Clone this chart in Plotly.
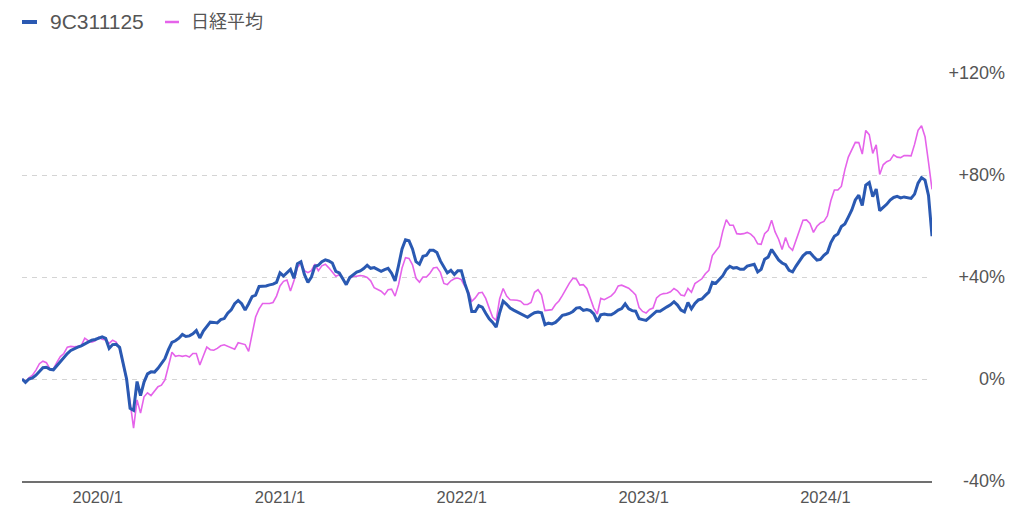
import pandas as pd
import plotly.graph_objects as go

# ---------------- data ----------------
start_date = "2019-08-02"          # first weekly observation
fund_name = "9C311125"
index_name = "日経平均"

fund_pct = [
    0, -1.3, 0, 0.4, 1.5, 3.0, 4.4, 4.6, 3.8, 3.6,
    5.3, 7.0, 8.4, 10.0, 11.2, 12.0, 12.5, 13.0, 13.8, 14.4,
    15.2, 15.5, 16.1, 16.5, 15.9, 12.0, 13.5, 13.6, 12.4, 6.0,
    0.0, -11.5, -12.3, -1.0, -6.5, -1.2, 2.0, 2.8, 2.7, 4.2,
    6.0, 8.0, 11.5, 14.4, 15.0, 16.0, 17.5, 16.7, 16.9, 17.7,
    19.0, 16.1, 18.8, 20.8, 22.3, 22.2, 22.0, 23.3, 23.7, 25.8,
    27.1, 29.5, 30.8, 29.5, 27.0, 29.5, 32.3, 32.9, 36.3, 36.4,
    36.5, 36.9, 37.2, 37.9, 41.6, 40.4, 41.8, 43.0, 39.5, 45.2,
    46.0, 41.0, 37.9, 40.0, 44.2, 44.6, 46.0, 46.7, 46.3,
    45.5, 42.2, 41.6, 39.3, 37.0, 39.8, 40.9, 41.9, 42.4, 43.3, 44.6,
    43.4, 43.7, 42.9, 42.2, 42.9, 43.4, 41.5, 38.5, 44.5, 51.0,
    54.6, 54.2, 51.0, 46.0, 45.0, 48.1, 48.5, 50.5, 50.5, 49.6,
    46.3, 43.8, 41.6, 42.6, 41.0, 42.5, 42.5, 37.5, 33.5, 26.5,
    26.5, 28.8, 28.2, 25.8, 23.6, 22.2, 20.3, 26.0, 30.5, 29.3,
    27.8, 27.0, 26.3, 25.7, 24.7, 24.2, 25.2, 26.0, 26.3, 26.0,
    21.3, 21.9, 21.6, 22.2, 23.5, 25.0, 25.3, 25.7, 26.5, 27.8,
    28.0, 26.9, 27.2, 26.8, 25.5, 22.5, 25.2, 25.5, 25.2, 25.2,
    26.0, 27.0, 27.6, 29.5, 27.5, 26.8, 26.6, 23.6, 23.3,
    23.0, 24.2, 25.5, 26.6, 26.6, 27.6, 28.3, 29.1, 30.3, 29.0,
    27.0, 26.3, 30.0, 27.5, 29.6, 31.0, 31.4, 32.8, 34.1, 37.9,
    37.5, 39.0, 40.5, 42.9, 44.2, 43.5, 43.7, 43.0, 43.0, 44.3,
    44.8, 45.0, 42.0, 43.0, 47.0, 47.8, 50.8, 48.5, 46.7, 45.5,
    44.8, 42.6, 42.0, 44.3, 46.5, 48.3, 49.5, 49.6, 48.0, 46.6,
    46.9, 48.5, 49.6, 53.5, 56.0, 56.9, 59.8, 60.8, 63.5, 66.3,
    70.2, 72.1, 68.0, 76.0, 77.0, 71.5, 74.5, 66.0, 67.3, 68.5,
    70.2, 71.2, 71.6, 71.0, 71.4, 71.0, 70.8, 72.5, 76.8, 79.0,
    78.0, 72.0, 56.0,
]

nikkei_pct = [
    0, -1.0, 0.5, 1.5, 3.5, 6.0, 7.0, 6.4, 4.0, 4.0,
    6.5, 8.8, 10.0, 12.5, 12.8, 12.6, 12.8, 13.1, 16.0, 15.0,
    14.5, 15.0, 16.4, 15.6, 15.3, 14.0, 15.2, 14.5, 11.8, 6.0,
    -0.5, -9.0, -19.3, -8.2, -13.4, -7.0, -5.4, -6.5, -4.5, -3.0,
    -2.4, -0.4, 5.0, 10.5, 8.9, 9.2, 8.9, 9.2, 8.6, 10.0,
    10.0, 5.5, 9.0, 12.5, 11.5, 11.3, 12.0, 13.0, 13.4, 12.8,
    12.5, 11.7, 14.2, 13.8, 13.5, 10.8, 17.5, 24.3, 27.5, 29.6,
    29.6, 29.6, 30.0, 32.5, 36.5, 38.3, 38.8, 34.5, 38.5, 43.7,
    45.6, 42.5, 41.7, 42.5, 45.0, 42.5, 44.4, 45.0, 43.6,
    41.8, 40.3, 40.9, 39.5, 37.0, 39.5, 40.3, 40.3, 40.6, 40.4, 39.8,
    38.5, 35.8, 35.0, 34.4, 33.1, 35.0, 35.2, 32.5, 37.0, 43.5,
    47.6, 47.3, 44.8, 39.5, 38.0, 40.0, 40.0, 41.5, 43.5, 43.8,
    41.8, 37.5, 37.0, 38.5, 39.3, 39.6, 39.0, 36.3, 34.4, 30.5,
    31.8, 33.7, 34.0, 31.6, 27.8, 24.2, 23.0, 31.5, 35.5, 32.5,
    31.1, 31.1, 30.9, 30.5, 29.2, 29.2, 30.0, 34.0, 35.0, 33.0,
    26.8, 27.0, 27.2, 29.2, 30.6, 32.8, 35.5, 37.6, 39.5, 39.2,
    36.8, 37.0, 35.5, 31.8, 27.8, 25.5, 31.6, 31.1, 31.7, 32.6,
    34.0, 36.5, 36.8, 36.3, 35.6, 34.4, 33.0, 28.0, 26.5,
    25.9, 27.3, 27.8, 31.8, 33.0, 33.5, 33.6, 34.2, 35.5, 34.6,
    32.9, 32.6, 35.5, 34.0, 37.4, 38.4, 39.3, 41.3, 42.6, 48.4,
    50.0, 52.0, 58.0, 62.5, 60.3, 60.3, 57.0, 56.8, 57.0, 57.5,
    56.8, 55.5, 53.0, 52.8, 57.0, 58.3, 62.3, 57.7, 54.8, 50.8,
    55.5, 51.8, 50.5, 54.2, 58.0, 62.3, 62.4, 61.0, 57.5, 59.9,
    61.2, 61.8, 64.0, 70.0, 74.1, 74.1, 75.5, 82.0, 87.0, 89.8,
    92.8, 92.7, 88.2, 97.5, 95.8, 88.5, 91.8, 80.2, 84.0, 85.2,
    85.8, 87.9, 87.0, 86.8, 87.6, 87.6, 87.5, 92.0, 97.5, 99.3,
    95.0, 85.0, 74.4,
]

x_tick_dates = ["2020-01-01", "2021-01-01", "2022-01-01", "2023-01-01", "2024-01-01"]
x_tick_labels = ["2020/1", "2021/1", "2022/1", "2023/1", "2024/1"]
y_tick_vals = [-40, 0, 40, 80, 120]
y_tick_labels = ["-40%", "0%", "+40%", "+80%", "+120%"]

# ---------------- styling ----------------
W, H = 1024, 517
BLUE = "#2a59b2"
PINK = "#e563ea"
TXT = "#555555"
FONT = "Liberation Sans, Arial, Noto Sans CJK JP, sans-serif"

fund_dates = pd.date_range(start_date, periods=len(fund_pct), freq="7D")
nikkei_dates = pd.date_range(start_date, periods=len(nikkei_pct), freq="7D")
x_end = max(fund_dates[-1], nikkei_dates[-1])

fig = go.Figure()
fig.add_trace(go.Scatter(x=nikkei_dates, y=nikkei_pct, mode="lines", name=index_name,
                         line=dict(color=PINK, width=1.6), hoverinfo="skip"))
fig.add_trace(go.Scatter(x=fund_dates, y=fund_pct, mode="lines", name=fund_name,
                         line=dict(color=BLUE, width=3), hoverinfo="skip"))

# plot-area placement (pixels)
px_left, px_right, px_top, px_bottom = 22, 932, 73, 481

fig.update_layout(
    width=W, height=H, autosize=False,
    margin=dict(l=0, r=0, t=0, b=0, pad=0, autoexpand=False),
    paper_bgcolor="white", plot_bgcolor="white",
    showlegend=False,
    font=dict(family=FONT, color=TXT),
    xaxis=dict(
        domain=[px_left / W, px_right / W], automargin=False,
        range=[fund_dates[0], x_end],
        showgrid=False, zeroline=False,
        showline=True, linecolor="#707070", linewidth=2,
        tickvals=x_tick_dates, ticktext=x_tick_labels,
        ticks="", tickfont=dict(size=16.5, color=TXT),
    ),
    yaxis=dict(
        domain=[1 - px_bottom / H, 1 - px_top / H], automargin=False,
        range=[-40, 120],
        anchor="free", position=1005 / W, side="left",
        showgrid=True, gridcolor="#d4d4d4", gridwidth=1, griddash="5px,5px",
        zeroline=False, showline=False,
        tickvals=y_tick_vals, ticktext=y_tick_labels,
        ticks="", tickfont=dict(size=18, color=TXT),
    ),
)

# hand-drawn legend (short swatches like the reference)
leg_y = 1 - 22 / H
fig.add_shape(type="line", xref="paper", yref="paper", x0=22 / W, x1=37 / W, y0=leg_y, y1=leg_y,
              line=dict(color=BLUE, width=4))
fig.add_shape(type="line", xref="paper", yref="paper", x0=165 / W, x1=179 / W, y0=leg_y, y1=leg_y,
              line=dict(color=PINK, width=2.5))
fig.add_annotation(x=48 / W, y=leg_y, xref="paper", yref="paper", text=fund_name, showarrow=False,
                   xanchor="left", yanchor="middle", font=dict(size=21, color=TXT, family=FONT))
fig.add_annotation(x=189 / W, y=leg_y, xref="paper", yref="paper", text=index_name, showarrow=False,
                   xanchor="left", yanchor="middle", font=dict(size=18, color=TXT, family=FONT))

fig.write_html("out.html")
